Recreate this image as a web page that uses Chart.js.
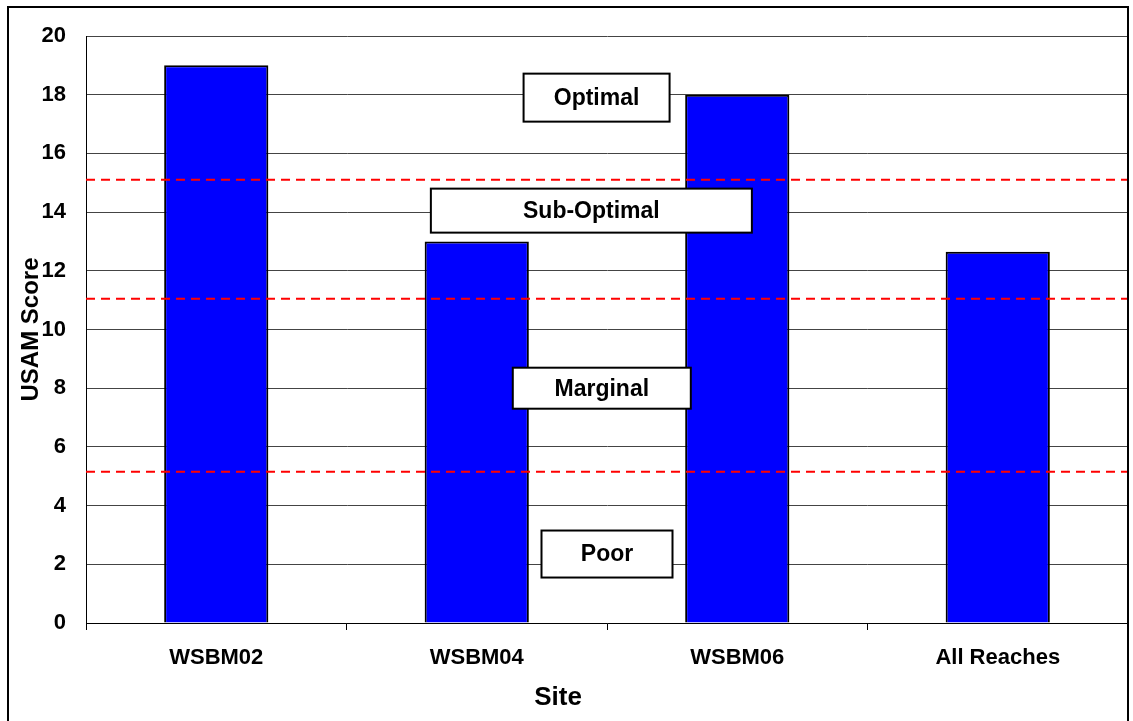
<!DOCTYPE html>
<html>
<head>
<meta charset="utf-8">
<script src="https://cdn.jsdelivr.net/npm/chart.js@4"></script>
<style>
  html, body { margin: 0; padding: 0; background: #fff; }
  #wrap { width: 1133px; height: 721px; position: relative; }
</style>
</head>
<body>
<div id="wrap"><canvas id="usamChart" width="1133" height="721"></canvas></div>
<script>
const sites = ['WSBM02', 'WSBM04', 'WSBM06', 'All Reaches'];
const scores = [19, 13, 18, 12.65];
const yTicks = [0, 2, 4, 6, 8, 10, 12, 14, 16, 18, 20];
// condition class boundaries (dashed lines)
const thresholds = [15.1, 11.05, 5.15];
const classNames = ['Optimal', 'Sub-Optimal', 'Marginal', 'Poor'];
const classScores = [17.9, 14.05, 8.0, 2.35];

const FONT = 'Arial, "Liberation Sans", sans-serif';

// white boxed labels for the condition classes
const boxSizes = { 'Optimal': [146, 48], 'Sub-Optimal': [321, 44], 'Marginal': [178, 41], 'Poor': [131, 47] };
const boxOffsets = { 'Optimal': 1.46, 'Sub-Optimal': 1.44, 'Marginal': 1.48, 'Poor': 1.5 };

const classBoxes = {
    id: 'classBoxes',
    afterDatasetsDraw(chart) {
        const ctx = chart.ctx;
        const x = chart.scales.x2;
        const y = chart.scales.y;
        ctx.save();
        classNames.forEach((name, i) => {
            const [w, h] = boxSizes[name];
            const cx = x.getPixelForValue(boxOffsets[name] + 0.5);
            const cy = y.getPixelForValue(classScores[i]);
            ctx.fillStyle = '#fff';
            ctx.fillRect(cx - w / 2, cy - h / 2, w, h);
            ctx.strokeStyle = '#000';
            ctx.lineWidth = 2;
            ctx.strokeRect(cx - w / 2, cy - h / 2, w, h);
            ctx.fillStyle = '#000';
            ctx.font = 'bold 23px ' + FONT;
            ctx.textAlign = 'center';
            ctx.textBaseline = 'middle';
            ctx.fillText(name, cx, cy + 1);
        });
        ctx.restore();
    }
};

// outer frame + the "Site" title, which sits a bit left of the plot centre
const outerFrame = {
    id: 'outerFrame',
    afterDraw(chart) {
        const ctx = chart.ctx;
        const area = chart.chartArea;
        ctx.save();
        ctx.strokeStyle = '#000';
        ctx.lineWidth = 2;
        ctx.strokeRect(8, 7, 1120, 730);
        ctx.fillStyle = '#000';
        ctx.font = 'bold 26px ' + FONT;
        ctx.textAlign = 'center';
        ctx.textBaseline = 'middle';
        ctx.fillText('Site', area.left + (area.right - area.left) * 0.453, area.bottom + 75);
        ctx.restore();
    }
};

const lineSets = thresholds.map(v => ({
    type: 'line',
    data: [{ x: 0, y: v }, { x: 4, y: v }],
    xAxisID: 'x2',
    borderColor: '#ff0000',
    borderWidth: 2,
    borderDash: [9, 6],
    pointRadius: 0,
    fill: false,
    order: 0
}));

new Chart(document.getElementById('usamChart'), {
    type: 'bar',
    data: {
        labels: sites,
        datasets: [{
            data: scores,
            backgroundColor: '#0000ff',
            borderColor: '#000',
            borderWidth: 2,
            barPercentage: 0.4,
            categoryPercentage: 1,
            grouped: false,
            order: 1
        }, ...lineSets]
    },
    options: {
        responsive: false,
        animation: false,
        layout: { padding: { left: 14, right: 5, top: 36, bottom: 0 } },
        plugins: { legend: { display: false }, tooltip: { enabled: false } },
        scales: {
            x: {
                offset: true,
                grid: { offset: true, drawOnChartArea: false, drawTicks: true, tickLength: 7, color: '#000' },
                border: { color: '#000', width: 1 },
                ticks: { color: '#000', font: { family: FONT, size: 22, weight: 'bold' }, padding: 15 },
                title: { display: false },
                afterFit(axis) { axis.height = 98; }
            },
            x2: {
                type: 'linear',
                display: false,
                offset: false,
                min: 0,
                max: 4
            },
            y: {
                min: 0,
                max: 20,
                afterBuildTicks(axis) { axis.ticks = yTicks.map(v => ({ value: v })); },
                afterFit(axis) { axis.width = 72; },
                grid: { color: '#444', lineWidth: 1, drawTicks: false },
                border: { color: '#000', width: 1 },
                ticks: { color: '#000', font: { family: FONT, size: 22, weight: 'bold' }, padding: 20 },
                title: { display: true, text: 'USAM Score', color: '#000', font: { family: FONT, size: 24, weight: 'bold' }, padding: { top: 3, bottom: 0 } }
            }
        }
    },
    plugins: [classBoxes, outerFrame]
});
</script>
</body>
</html>
